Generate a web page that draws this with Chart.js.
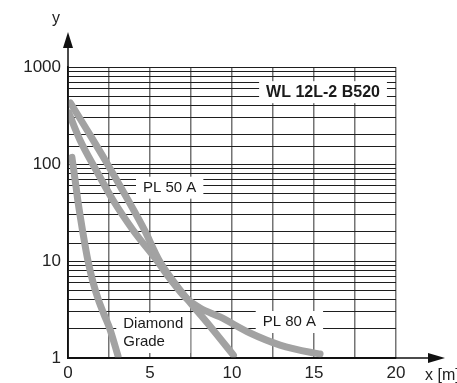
<!DOCTYPE html>
<html>
<head>
<meta charset="utf-8">
<script src="https://cdn.jsdelivr.net/npm/chart.js@4"></script>
<style>html,body{margin:0;padding:0;background:#fff}</style>
</head>
<body>
<canvas id="chart" width="457" height="383"></canvas>
<script>
// curves (x in m, y on log scale)
const diamondX = [0.24, 0.48, 0.6, 0.9, 1.22, 1.53, 1.85, 2.2, 2.55, 3.05];
const diamondY = [117, 60, 42, 20, 10, 6, 4, 2.8, 2.0, 1.05];

const pl50X = [0.15, 1.16, 2.26, 3.66, 4.66, 5.55, 6.37, 7.32, 8.7, 10.09];
const pl50Y = [425, 224, 110, 42.5, 20.9, 10.2, 6.37, 3.96, 2.09, 1.07];

const pl80X = [0.05, 0.73, 1.71, 2.74, 3.96, 5.4, 6.28, 7.13, 8.05, 9.27, 11.1, 12.93, 14.94, 15.37];
const pl80Y = [336, 177, 86.8, 42.5, 20.9, 10.2, 6.37, 4.25, 3.28, 2.65, 1.81, 1.36, 1.13, 1.1];

const xLabels = [0, 5, 10, 15, 20];
const yLabels = [1, 10, 100, 1000];

const FONT = '"Liberation Sans", Arial, sans-serif';

const toPoints = (xs, ys) => xs.map((x, i) => ({x: x, y: ys[i]}));

const curve = (label, xs, ys) => ({
  label: label,
  data: toPoints(xs, ys),
  showLine: true,
  borderColor: '#a2a2a2',
  borderWidth: 7,
  borderCapStyle: 'round',
  borderJoinStyle: 'round',
  pointRadius: 0,
  cubicInterpolationMode: 'monotone',
  fill: false
});

// text tags placed on the grid in data units
const tags = [
  {lines: ['WL 12L-2 B520'], x: 15.55, y: 550, bold: true},
  {lines: ['PL 50 A'], x: 6.2, y: 57},
  {lines: ['Diamond', 'Grade'], x: 5.2, y: 1.81},
  {lines: ['PL 80 A'], x: 13.5, y: 2.35}
];

const tagPlugin = {
  id: 'tags',
  beforeDatasetsDraw(chart) {
    const ctx = chart.ctx;
    const xs = chart.scales.x, ys = chart.scales.y;
    ctx.save();
    tags.forEach(t => {
      ctx.font = (t.bold ? 'bold 16px ' : '15px ') + FONT;
      const w = Math.max(...t.lines.map(l => ctx.measureText(l).width));
      const lh = 18;
      const h = t.lines.length * lh + 4;
      const cx = xs.getPixelForValue(t.x), cy = ys.getPixelForValue(t.y);
      ctx.fillStyle = '#fff';
      ctx.fillRect(cx - w / 2 - 7, cy - h / 2, w + 14, h);
      ctx.fillStyle = '#1a1a1a';
      ctx.textAlign = t.lines.length > 1 ? 'left' : 'center';
      ctx.textBaseline = 'middle';
      t.lines.forEach((l, i) => {
        const ty = cy - (t.lines.length - 1) * lh / 2 + i * lh;
        ctx.fillText(l, t.lines.length > 1 ? cx - w / 2 : cx, ty);
      });
    });
    ctx.restore();
  }
};

const arrowPlugin = {
  id: 'arrows',
  afterDraw(chart) {
    const ctx = chart.ctx;
    const a = chart.chartArea;
    ctx.save();
    ctx.strokeStyle = '#111';
    ctx.fillStyle = '#111';
    ctx.lineWidth = 1.5;
    ctx.beginPath();
    ctx.moveTo(a.left, a.bottom);
    ctx.lineTo(430, a.bottom);
    ctx.moveTo(a.left, a.bottom);
    ctx.lineTo(a.left, 46);
    ctx.stroke();
    ctx.beginPath();
    ctx.moveTo(445, a.bottom);
    ctx.lineTo(428, a.bottom - 5);
    ctx.lineTo(428, a.bottom + 5);
    ctx.closePath();
    ctx.fill();
    ctx.beginPath();
    ctx.moveTo(a.left, 32);
    ctx.lineTo(a.left - 5, 48);
    ctx.lineTo(a.left + 5, 48);
    ctx.closePath();
    ctx.fill();
    ctx.font = '16px ' + FONT;
    ctx.fillStyle = '#222';
    ctx.textAlign = 'left';
    ctx.textBaseline = 'middle';
    ctx.fillText('x [m]', 425, 376);
    ctx.fillText('y', 52, 19);
    ctx.restore();
  }
};

new Chart(document.getElementById('chart').getContext('2d'), {
  type: 'scatter',
  data: {
    datasets: [
      curve('Diamond Grade', diamondX, diamondY),
      curve('PL 50 A', pl50X, pl50Y),
      curve('PL 80 A', pl80X, pl80Y)
    ]
  },
  options: {
    responsive: false,
    animation: false,
    devicePixelRatio: 1,
    layout: {padding: {top: 67, right: 61, left: 0, bottom: 0}},
    plugins: {legend: {display: false}, tooltip: {enabled: false}},
    scales: {
      x: {
        type: 'linear',
        min: 0,
        max: 20,
        afterFit: s => { s.height = 25; },
        grid: {color: '#747474', lineWidth: 1.5, drawTicks: false},
        border: {color: '#111', width: 1.5},
        ticks: {
          stepSize: 2.5,
          autoSkip: false,
          maxRotation: 0,
          padding: 5,
          color: '#222',
          font: {family: FONT, size: 17},
          callback: v => xLabels.includes(v) ? String(v) : ''
        }
      },
      y: {
        type: 'logarithmic',
        min: 1,
        max: 1000,
        afterFit: s => { s.width = 68; },
        grid: {color: '#1e1e1e', lineWidth: 1, drawTicks: false},
        border: {color: '#111', width: 1.5},
        ticks: {
          autoSkip: false,
          padding: 7,
          color: '#222',
          font: {family: FONT, size: 17},
          callback: v => yLabels.includes(v) ? String(v) : ''
        }
      }
    }
  },
  plugins: [tagPlugin, arrowPlugin]
});
</script>
</body>
</html>
